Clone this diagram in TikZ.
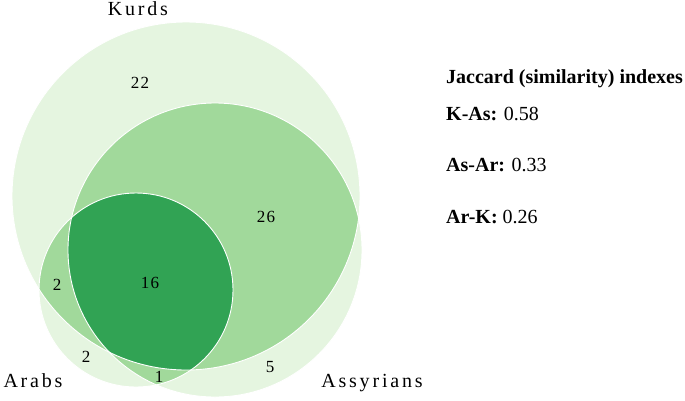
\documentclass[tikz,border=0pt]{standalone}
\usepackage{fontspec}
\setmainfont{Liberation Serif}
\newfontfamily\spacedfont[LetterSpace=14]{Liberation Serif}
\newfontfamily\numfont[LetterSpace=8]{Liberation Serif}
\definecolor{one}{HTML}{E5F5E0}
\definecolor{two}{HTML}{A1D99B}
\definecolor{three}{HTML}{31A354}
\tikzset{
  setlabel/.style={font=\fontsize{20}{22}\selectfont\spacedfont, text=black, inner sep=0pt, anchor=base},
  count/.style={font=\fontsize{17}{19}\selectfont\numfont, text=black, inner sep=0pt, anchor=center},
  jtext/.style={font=\fontsize{20}{22}\selectfont, text=black, inner sep=0pt, anchor=base west},
  edge/.style={draw=white, line width=0.9pt}
}
\begin{document}
\begin{tikzpicture}[x=1pt,y=-1pt]
\useasboundingbox (0,0) rectangle (685,400);
\coordinate (K) at (186,196);
\coordinate (S) at (215,250);
\coordinate (R) at (136,290);
\def\rK{174}\def\rS{147}\def\rR{97}
% single-set fills
\fill[one] (K) circle[radius=\rK];
\fill[one] (S) circle[radius=\rS];
\fill[one] (R) circle[radius=\rR];
% pairwise overlaps
\begin{scope}\clip (K) circle[radius=\rK]; \fill[two] (S) circle[radius=\rS];\end{scope}
\begin{scope}\clip (K) circle[radius=\rK]; \fill[two] (R) circle[radius=\rR];\end{scope}
\begin{scope}\clip (S) circle[radius=\rS]; \fill[two] (R) circle[radius=\rR];\end{scope}
% triple overlap
\begin{scope}\clip (K) circle[radius=\rK]; \clip (S) circle[radius=\rS]; \fill[three] (R) circle[radius=\rR];\end{scope}
% outlines
\draw[edge] (K) circle[radius=\rK];
\draw[edge] (S) circle[radius=\rS];
\draw[edge] (R) circle[radius=\rR];
% set labels
\node[setlabel] (lk) at (138,15) {Kurds};
\node[setlabel] (lr) at (33,387) {Arabs};
\node[setlabel] (ls) at (372,387) {Assyrians};
% counts
\node[count] (n22) at (140,83) {22};
\node[count] (n26) at (266,217) {26};
\node[count] (n16) at (150,283) {16};
\node[count] (n2a) at (57,285) {2};
\node[count] (n2b) at (86,357) {2};
\node[count] (n1) at (159,377) {1};
\node[count] (n5) at (270,367) {5};
% Jaccard indexes
\node[jtext] (jt) at (446,83) {\textbf{Jaccard (similarity) indexes}};
\node[jtext] (j1) at (446,120) {\textbf{K-As:} 0.58};
\node[jtext] (j2) at (446,171.5) {\textbf{As-Ar:} 0.33};
\node[jtext] (j3) at (446,223) {\textbf{Ar-K:} 0.26};
\end{tikzpicture}
\end{document}
